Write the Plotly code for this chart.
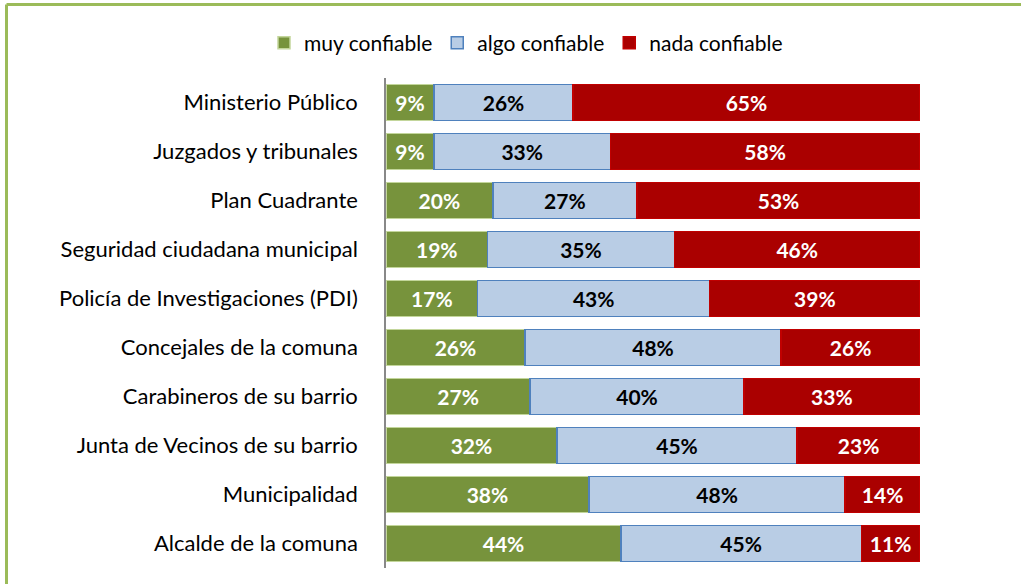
import plotly.graph_objects as go

categories = [
    "Ministerio Público",
    "Juzgados y tribunales",
    "Plan Cuadrante",
    "Seguridad ciudadana municipal",
    "Policía de Investigaciones (PDI)",
    "Concejales de la comuna",
    "Carabineros de su barrio",
    "Junta de Vecinos de su barrio",
    "Municipalidad",
    "Alcalde de la comuna",
]
muy = [9, 9, 20, 19, 17, 26, 27, 32, 38, 44]
algo = [26, 33, 27, 35, 43, 48, 40, 45, 48, 45]
nada = [65, 58, 53, 46, 39, 26, 33, 23, 14, 11]

series = [
    ("muy confiable", muy, "#77933c", "#c3d69b", "white"),
    ("algo confiable", algo, "#b9cde5", "#4f81bd", "black"),
    ("nada confiable", nada, "#aa0000", "#c00000", "white"),
]

FONT = "Lato"
fig = go.Figure()
for name, vals, fill, line, tcol in series:
    fig.add_trace(go.Bar(
        y=categories, x=vals, name=name, orientation="h",
        marker=dict(color=fill, line=dict(color=line, width=1.5)),
        text=[f"{v}%" for v in vals], textposition="inside",
        insidetextanchor="middle", textangle=0, constraintext="none",
        textfont=dict(family=FONT, size=21, color=tcol, weight="bold"),
        hoverinfo="skip",
    ))

L, R, T, B = 386, 101, 78, 16
W, H = 1021, 584
pw, ph = W - L - R, H - T - B
def px_x(p):
    return (p - L) / pw
def px_y(p):
    return (H - B - p) / ph

fig.update_layout(
    width=W, height=H,
    barmode="stack", barnorm="percent", bargap=0.27,
    margin=dict(l=L, r=R, t=T, b=B, autoexpand=False),
    paper_bgcolor="white", plot_bgcolor="white",
    font=dict(family=FONT, size=22, color="black"),
    showlegend=True,
    legend=dict(orientation="h", xref="container", yref="container",
                x=526 / W, xanchor="center", y=1 - 43 / H, yanchor="middle",
                font=dict(family=FONT, size=21), traceorder="normal",
                itemwidth=30),
    xaxis=dict(range=[0, 100], showticklabels=False, showgrid=False,
               zeroline=False, showline=False, fixedrange=True),
    yaxis=dict(autorange="reversed", showline=True, linecolor="#888888",
               linewidth=1.5, ticks="", showgrid=False, ticklabelstandoff=22,
               tickfont=dict(family=FONT, size=22)),
    shapes=[
        dict(type="line", xref="paper", yref="paper",
             x0=px_x(6.5), x1=px_x(1025), y0=px_y(4.5), y1=px_y(4.5),
             line=dict(color="#9bbb59", width=3)),
        dict(type="line", xref="paper", yref="paper",
             x0=px_x(6.5), x1=px_x(6.5), y0=px_y(4.5), y1=px_y(590),
             line=dict(color="#9bbb59", width=3)),
    ],
)

fig.write_html("out.html", config={"displayModeBar": False},
               post_script="document.body.style.margin='0';document.body.style.overflow='hidden';")
